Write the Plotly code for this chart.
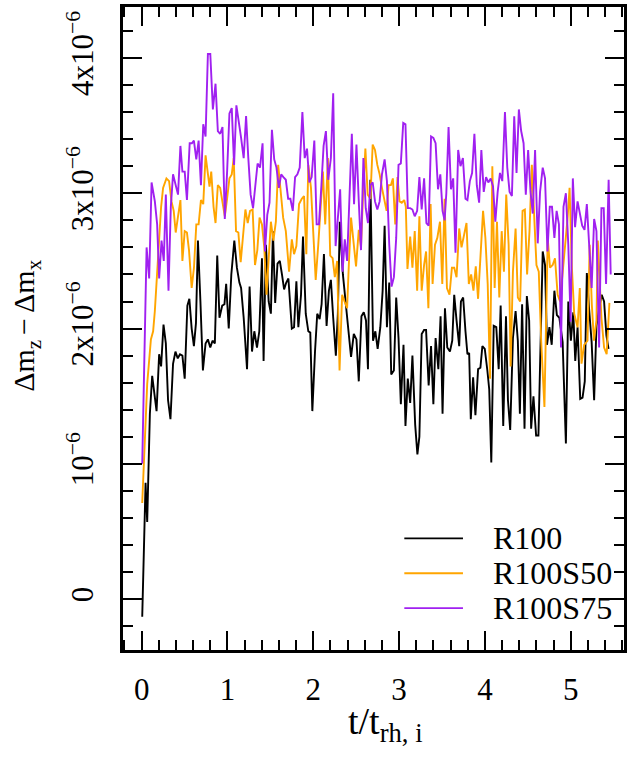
import plotly.graph_objects as go

# ---------------- data (values in units of 1e-6) ----------------
t_r100 = [0.007, 0.046, 0.065, 0.096, 0.123, 0.15, 0.174, 0.204, 0.227, 0.255, 0.282, 0.308, 0.336, 0.366,
          0.394, 0.421, 0.447, 0.475, 0.502, 0.533, 0.556, 0.583, 0.609, 0.633, 0.656, 0.685, 0.714, 0.745,
          0.772, 0.800, 0.826, 0.853, 0.881, 0.907, 0.939, 0.965, 0.985, 1.015, 1.045, 1.08, 1.11, 1.139,
          1.159, 1.189, 1.228, 1.258, 1.286, 1.313, 1.344, 1.371, 1.402, 1.421, 1.448, 1.48, 1.506, 1.53,
          1.556, 1.583, 1.61, 1.635, 1.66, 1.685, 1.71, 1.75, 1.776, 1.803, 1.826, 1.857, 1.88, 1.912,
          1.942, 1.965, 1.989, 2.02, 2.046, 2.074, 2.097, 2.124, 2.155, 2.182, 2.205, 2.232, 2.263, 2.286,
          2.309, 2.345, 2.383, 2.414, 2.44, 2.472, 2.503, 2.53, 2.561, 2.588, 2.614, 2.637, 2.665, 2.696,
          2.723, 2.75, 2.781, 2.808, 2.831, 2.858, 2.885, 2.908, 2.939, 2.966, 2.993, 3.02, 3.051, 3.074,
          3.101, 3.129, 3.155, 3.187, 3.213, 3.236, 3.263, 3.291, 3.314, 3.344, 3.372, 3.399, 3.425, 3.457,
          3.483, 3.506, 3.534, 3.561, 3.592, 3.619, 3.642, 3.669, 3.70, 3.72, 3.746, 3.773, 3.796, 3.816,
          3.835, 3.862, 3.889, 3.92, 3.947, 3.97, 3.998, 4.028, 4.05, 4.074, 4.102, 4.132, 4.16, 4.183,
          4.213, 4.245, 4.268, 4.294, 4.326, 4.357, 4.383, 4.407, 4.433, 4.461, 4.488, 4.515, 4.538, 4.565,
          4.596, 4.623, 4.648, 4.673, 4.70, 4.723, 4.751, 4.778, 4.809, 4.838, 4.867, 4.905, 4.943, 4.971,
          5.001, 5.029, 5.052, 5.079, 5.11, 5.137, 5.163, 5.187, 5.214, 5.243, 5.272, 5.299, 5.33, 5.36,
          5.388, 5.415, 5.44]
v_r100 = [-0.13, 0.86, 0.57, 1.37, 1.65, 1.50, 1.39, 1.81, 1.72, 2.03, 1.89, 1.47, 1.33, 1.74,
          1.83, 1.78, 1.81, 1.80, 1.63, 2.17, 2.22, 2.00, 1.87, 2.04, 2.65, 2.20, 1.69, 1.89,
          1.92, 1.86, 1.91, 1.89, 2.54, 2.08, 2.17, 2.18, 2.33, 2.00, 2.40, 2.65, 2.45, 2.34,
          2.30, 2.08, 1.70, 2.31, 1.83, 1.98, 1.86, 1.98, 2.52, 1.76, 2.62, 2.20, 2.11, 2.72,
          2.19, 2.48, 2.50, 2.40, 2.29, 2.34, 2.37, 2.00, 2.01, 2.35, 2.01, 2.25, 2.68, 2.11,
          1.98, 1.97, 1.39, 1.83, 2.11, 2.07, 2.18, 2.55, 2.02, 2.28, 2.36, 2.08, 1.80, 2.11,
          2.79, 2.40, 2.15, 1.96, 1.79, 1.96, 1.92, 1.61, 2.09, 2.12, 2.06, 1.70, 3.10, 1.91,
          1.98, 1.85, 2.01, 2.28, 2.76, 2.01, 2.34, 1.66, 1.69, 2.23, 1.93, 1.44, 1.88, 1.28,
          1.63, 1.45, 1.80, 1.29, 1.07, 1.20, 1.96, 1.99, 1.99, 1.58, 1.87, 1.44, 1.93, 1.70,
          2.09, 1.37, 2.15, 1.86, 1.83, 1.91, 2.25, 2.06, 1.87, 2.20, 2.23, 1.98, 1.81, 1.82,
          1.33, 1.64, 1.36, 1.70, 1.71, 1.87, 1.85, 1.69, 1.55, 1.01, 2.02, 2.01, 1.70, 2.17,
          1.28, 2.09, 1.47, 1.25, 1.93, 2.13, 1.91, 1.37, 2.18, 1.26, 2.24, 2.06, 1.26, 1.50,
          1.21, 1.21, 1.90, 2.57, 2.47, 1.88, 2.01, 1.88, 2.28, 2.10, 2.08, 1.90, 1.15, 2.20,
          1.91, 2.12, 1.76, 2.01, 1.48, 1.49, 1.61, 2.41, 2.14, 1.90, 1.47, 2.02, 2.15, 2.25,
          2.20, 1.95, 1.85]

t_r100s50 = [0.007, 0.035, 0.065, 0.108, 0.134, 0.154, 0.18, 0.204, 0.227, 0.25, 0.289, 0.32, 0.348, 0.374,
             0.397, 0.424, 0.452, 0.475, 0.502, 0.528, 0.552, 0.583, 0.61, 0.637, 0.664, 0.691, 0.718, 0.745,
             0.772, 0.791, 0.811, 0.838, 0.861, 0.888, 0.915, 0.946, 0.969, 0.996, 1.023, 1.05, 1.073, 1.1,
             1.127, 1.154, 1.182, 1.209, 1.236, 1.263, 1.293, 1.321, 1.348, 1.374, 1.402, 1.429, 1.455, 1.48,
             1.506, 1.535, 1.564, 1.591, 1.622, 1.649, 1.68, 1.718, 1.75, 1.776, 1.803, 1.834, 1.866, 1.892,
             1.919, 1.942, 1.973, 2.0, 2.028, 2.058, 2.086, 2.112, 2.139, 2.17, 2.197, 2.225, 2.251, 2.278,
             2.306, 2.336, 2.364, 2.394, 2.414, 2.44, 2.472, 2.498, 2.53, 2.556, 2.58, 2.607, 2.634, 2.665,
             2.692, 2.719, 2.746, 2.773, 2.8, 2.827, 2.854, 2.877, 2.904, 2.927, 2.955, 2.981, 3.005, 3.031,
             3.059, 3.078, 3.097, 3.129, 3.155, 3.182, 3.21, 3.236, 3.263, 3.291, 3.314, 3.341, 3.367, 3.39,
             3.418, 3.445, 3.476, 3.503, 3.53, 3.557, 3.587, 3.615, 3.642, 3.669, 3.70, 3.727, 3.755, 3.785,
             3.812, 3.839, 3.866, 3.893, 3.92, 3.95, 3.978, 4.005, 4.032, 4.059, 4.086, 4.113, 4.14, 4.167,
             4.195, 4.221, 4.248, 4.276, 4.299, 4.326, 4.357, 4.383, 4.41, 4.438, 4.465, 4.491, 4.519, 4.546,
             4.573, 4.6, 4.627, 4.655, 4.693, 4.731, 4.758, 4.789, 4.816, 4.847, 4.875, 4.905, 4.932, 4.963,
             4.986, 5.013, 5.04, 5.079, 5.105, 5.125, 5.156, 5.195, 5.22, 5.245, 5.27, 5.299, 5.315, 5.34,
             5.357, 5.388, 5.418, 5.45]
v_r100s50 = [0.71, 1.20, 1.59, 1.92, 1.98, 2.13, 2.40, 2.72, 2.90, 3.04, 3.11, 3.09, 2.94, 2.87,
             2.71, 2.83, 2.95, 2.50, 2.72, 2.71, 2.58, 2.30, 2.45, 2.77, 2.77, 2.95, 2.92, 3.28,
             3.16, 3.05, 3.16, 2.90, 2.78, 3.06, 3.04, 2.92, 2.83, 2.96, 3.11, 3.14, 3.26, 2.72,
             2.71, 2.49, 2.72, 2.88, 2.78, 2.87, 2.88, 2.47, 2.58, 2.82, 2.77, 2.60, 2.25, 2.55,
             2.79, 2.65, 2.79, 3.21, 3.01, 2.82, 2.72, 2.42, 2.66, 2.55, 2.61, 2.92, 2.96, 2.98,
             2.55, 3.21, 3.04, 2.72, 2.36, 2.62, 2.87, 3.16, 2.77, 3.26, 2.54, 2.52, 2.38, 2.50,
             1.69, 2.25, 2.20, 2.15, 2.47, 2.82, 2.62, 2.46, 2.73, 2.60, 3.00, 3.33, 2.99, 2.96,
             3.36, 3.32, 3.21, 3.14, 3.04, 2.94, 2.87, 3.06, 3.06, 3.11, 2.77, 3.12, 2.94, 2.93,
             2.95, 2.90, 2.44, 2.68, 2.45, 2.72, 2.28, 2.83, 2.28, 2.47, 2.57, 2.15, 2.92, 2.33,
             2.62, 2.67, 2.79, 2.33, 2.96, 2.30, 2.25, 2.45, 2.45, 2.38, 2.74, 2.60, 2.69, 2.78,
             2.33, 2.40, 2.28, 2.46, 2.22, 2.55, 2.87, 2.67, 2.33, 1.63, 3.20, 2.30, 2.79, 2.23,
             2.72, 2.42, 2.99, 2.62, 1.72, 2.42, 2.74, 2.23, 2.20, 2.87, 2.88, 2.40, 2.72, 3.21,
             2.82, 2.47, 2.42, 1.91, 1.42, 2.67, 2.45, 2.47, 2.52, 2.25, 2.20, 2.40, 2.60, 2.82,
             3.04, 2.45, 2.11, 2.01, 2.30, 1.74, 1.88, 1.91, 2.62, 2.18, 1.91, 2.06, 2.65, 2.25,
             2.08, 1.86, 1.81, 2.19]

t_r100s75 = [0.007, 0.058, 0.088, 0.116, 0.154, 0.181, 0.204, 0.232, 0.258, 0.282, 0.313, 0.34, 0.366, 0.394,
             0.424, 0.452, 0.475, 0.502, 0.528, 0.56, 0.586, 0.609, 0.637, 0.664, 0.691, 0.718, 0.745, 0.772,
             0.80, 0.830, 0.861, 0.888, 0.915, 0.942, 0.969, 0.996, 1.023, 1.05, 1.077, 1.104, 1.131, 1.159,
             1.189, 1.217, 1.243, 1.27, 1.298, 1.324, 1.351, 1.379, 1.409, 1.437, 1.464, 1.49, 1.518, 1.545,
             1.571, 1.599, 1.626, 1.652, 1.68, 1.707, 1.733, 1.761, 1.788, 1.815, 1.842, 1.873, 1.9, 1.927,
             1.954, 1.981, 2.012, 2.039, 2.066, 2.093, 2.12, 2.147, 2.174, 2.205, 2.232, 2.26, 2.286, 2.313,
             2.341, 2.367, 2.394, 2.42, 2.449, 2.475, 2.503, 2.53, 2.556, 2.584, 2.611, 2.637, 2.665, 2.692,
             2.719, 2.746, 2.773, 2.80, 2.831, 2.858, 2.885, 2.912, 2.939, 2.966, 2.993, 3.02, 3.048, 3.074,
             3.101, 3.129, 3.155, 3.182, 3.21, 3.236, 3.263, 3.291, 3.318, 3.344, 3.372, 3.399, 3.425, 3.453,
             3.48, 3.506, 3.53, 3.55, 3.576, 3.604, 3.63, 3.657, 3.688, 3.715, 3.743, 3.773, 3.796, 3.824,
             3.85, 3.877, 3.905, 3.932, 3.958, 3.986, 4.013, 4.039, 4.067, 4.094, 4.121, 4.148, 4.175, 4.202,
             4.233, 4.26, 4.287, 4.314, 4.341, 4.368, 4.395, 4.422, 4.45, 4.476, 4.503, 4.531, 4.557, 4.584,
             4.615, 4.642, 4.673, 4.70, 4.728, 4.755, 4.781, 4.809, 4.835, 4.862, 4.886, 4.915, 4.943, 4.971,
             4.998, 5.024, 5.05, 5.079, 5.105, 5.133, 5.16, 5.187, 5.214, 5.243, 5.272, 5.299, 5.33, 5.357,
             5.384, 5.411, 5.441, 5.465]
v_r100s75 = [1.00, 2.60, 2.37, 3.08, 2.94, 2.77, 2.37, 2.65, 2.50, 2.99, 2.28, 2.90, 3.14, 3.06,
             2.99, 3.35, 3.16, 3.16, 2.95, 3.37, 3.37, 3.39, 3.25, 3.39, 3.06, 3.51, 3.42, 4.03,
             4.03, 3.62, 3.81, 3.46, 3.44, 3.49, 2.81, 3.16, 3.59, 3.63, 3.21, 3.65, 3.54, 3.41,
             3.26, 3.57, 3.26, 2.99, 2.89, 3.04, 3.22, 3.19, 3.37, 2.57, 2.84, 2.93, 3.47, 3.25,
             3.19, 3.04, 3.14, 3.12, 3.10, 2.96, 2.96, 2.87, 3.12, 3.14, 3.19, 3.60, 3.26, 3.33,
             3.08, 3.12, 3.39, 2.77, 2.77, 3.04, 3.35, 3.46, 3.10, 3.26, 3.74, 2.61, 2.82, 3.03,
             2.42, 2.66, 2.50, 2.90, 3.44, 2.92, 3.36, 2.94, 2.58, 3.26, 2.89, 2.78, 3.06, 3.08,
             2.94, 2.88, 2.94, 3.14, 3.25, 3.09, 2.62, 2.31, 2.38, 2.67, 3.21, 3.22, 3.52, 3.51,
             2.89, 2.89, 2.88, 2.83, 2.87, 3.12, 2.88, 3.11, 2.78, 2.76, 3.42, 3.41, 3.37, 3.03,
             3.14, 2.87, 2.80, 3.00, 3.49, 3.03, 3.11, 2.56, 3.32, 3.20, 3.26, 2.96, 2.95, 3.09,
             3.15, 3.44, 3.06, 2.93, 3.32, 3.01, 3.12, 3.08, 3.11, 3.05, 2.79, 3.01, 3.15, 3.09,
             3.60, 3.19, 3.01, 2.98, 3.57, 3.15, 3.62, 3.46, 3.37, 2.99, 3.32, 3.01, 2.85, 3.32,
             2.63, 3.01, 3.19, 3.11, 2.57, 2.90, 2.90, 2.67, 2.87, 2.77, 1.86, 2.90, 3.00, 2.62,
             2.05, 3.11, 2.75, 2.94, 2.85, 2.76, 2.73, 2.92, 2.62, 2.30, 2.81, 2.72, 1.86, 2.89,
             2.89, 2.33, 3.10, 2.40]

series_names = ["R100", "R100S50", "R100S75"]
series_colors = ["black", "#FFA500", "#A020F0"]
series_t = [t_r100, t_r100s50, t_r100s75]
series_v = [v_r100, v_r100s50, v_r100s75]

y_tickvals = [0, 1e-6, 2e-6, 3e-6, 4e-6]
y_ticktext = ["0", "10<sup>\u22126</sup>", "2x10<sup>\u22126</sup>", "3x10<sup>\u22126</sup>", "4x10<sup>\u22126</sup>"]
x_tickvals = [0, 1, 2, 3, 4, 5]

FONT = "Liberation Serif"

fig = go.Figure()
for name, col, tt, vv in zip(series_names, series_colors, series_t, series_v):
    fig.add_trace(go.Scatter(x=tt, y=[v * 1e-6 for v in vv], mode="lines", name=name,
                             line=dict(color=col, width=1.9), showlegend=False))

axis_common = dict(showline=True, linecolor="black", linewidth=2.5, mirror="allticks",
                   ticks="inside", ticklen=19, tickwidth=1.7, tickcolor="black",
                   showgrid=False, zeroline=False,
                   tickfont=dict(family=FONT, size=31, color="black"))

fig.update_xaxes(range=[-0.217, 5.62], tickmode="array", tickvals=x_tickvals,
                 ticklabelstandoff=10,
                 minor=dict(ticks="inside", ticklen=10, tickwidth=1.7, tickcolor="black",
                            tick0=0, dtick=0.2, showgrid=False),
                 **axis_common)
fig.update_yaxes(range=[-0.376e-6, 4.377e-6], tickmode="array", tickvals=y_tickvals,
                 ticktext=y_ticktext, tickangle=-90, ticklabelstandoff=15,
                 minor=dict(ticks="inside", ticklen=10, tickwidth=1.7, tickcolor="black",
                            tick0=0, dtick=0.2e-6, showgrid=False),
                 **axis_common)

# legend (drawn like R's legend(): line sample + label, no box)
leg_y = [0.1736, 0.1194, 0.0651]
shapes = []
annotations = []
for name, col, yy in zip(series_names, series_colors, leg_y):
    shapes.append(dict(type="line", xref="paper", yref="paper", x0=0.5615, x1=0.6786, y0=yy, y1=yy,
                       line=dict(color=col, width=1.9)))
    annotations.append(dict(text=name, xref="paper", yref="paper", x=0.734, y=yy,
                            xanchor="left", yanchor="middle", showarrow=False,
                            font=dict(family=FONT, size=32, color="black")))

annotations += [
    dict(text="\u0394m<sub>z</sub>\u2006\u2212\u2006\u0394m<sub>x</sub>", xref="paper", yref="paper",
         x=-0.1925, y=0.505, xanchor="center", yanchor="middle", textangle=-90,
         showarrow=False, font=dict(family=FONT, size=30)),
    dict(text="t/t<sub>rh, i</sub>", xref="paper", yref="paper",
         x=0.523, y=-0.0745, xanchor="center", yanchor="top",
         showarrow=False, font=dict(family=FONT, size=38)),
]

fig.update_layout(
    width=631, height=757,
    margin=dict(l=123, r=4, t=5, b=107),
    paper_bgcolor="white", plot_bgcolor="white",
    font=dict(family=FONT, size=31, color="black"),
    showlegend=False,
    shapes=shapes,
    annotations=annotations,
)

fig.write_html("out.html")
